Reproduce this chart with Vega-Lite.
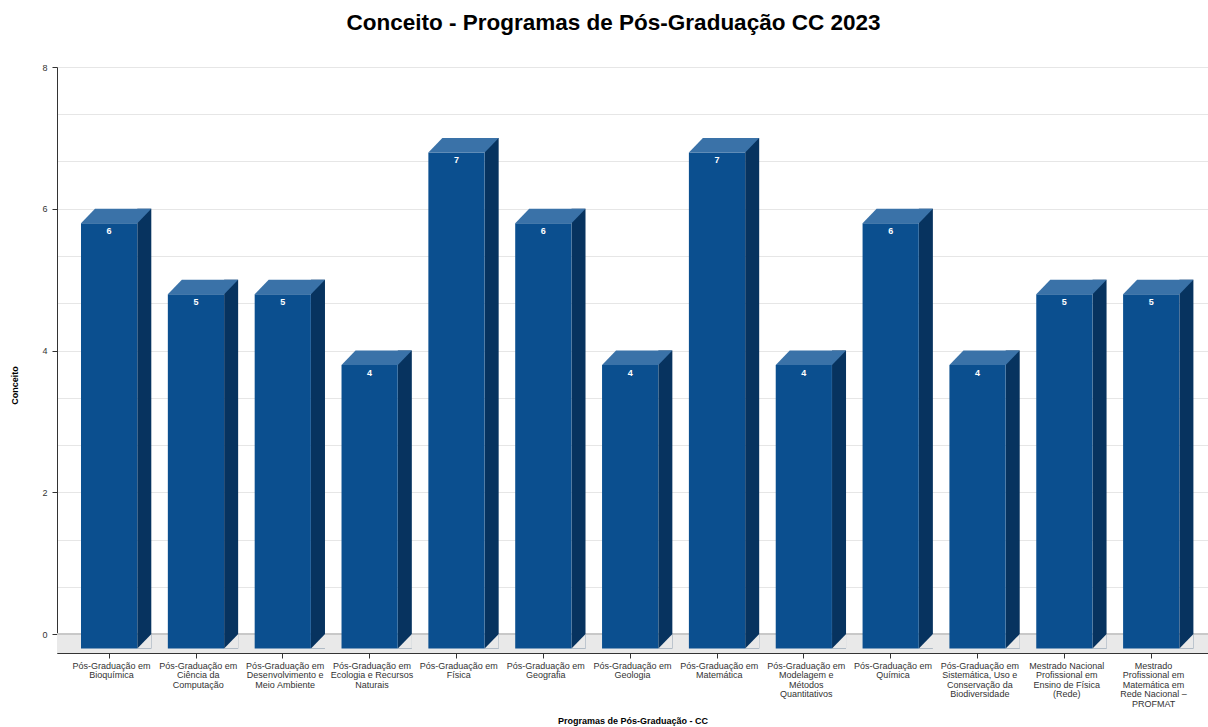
{
  "$schema": "https://vega.github.io/schema/vega-lite/v6.json",
  "width": 1151,
  "height": 586,
  "autosize": {"type": "none"},
  "padding": {"left": 57, "top": 67, "right": 0, "bottom": 74},
  "background": "white",
  "title": {
    "text": "Conceito - Programas de Pós-Graduação CC 2023",
    "font": "Liberation Sans",
    "fontSize": 22.5,
    "fontWeight": "bold",
    "color": "#000000",
    "anchor": "middle",
    "dx": -19,
    "baseline": "bottom",
    "offset": 6
  },
  "config": {
    "view": {"stroke": null},
    "font": "Liberation Sans"
  },
  "data": {
    "values": [
      {"programa": "Pós-Graduação em Bioquímica", "conceito": 6},
      {"programa": "Pós-Graduação em Ciência da Computação", "conceito": 5},
      {"programa": "Pós-Graduação em Desenvolvimento e Meio Ambiente", "conceito": 5},
      {"programa": "Pós-Graduação em Ecologia e Recursos Naturais", "conceito": 4},
      {"programa": "Pós-Graduação em Física", "conceito": 7},
      {"programa": "Pós-Graduação em Geografia", "conceito": 6},
      {"programa": "Pós-Graduação em Geologia", "conceito": 4},
      {"programa": "Pós-Graduação em Matemática", "conceito": 7},
      {"programa": "Pós-Graduação em Modelagem e Métodos Quantitativos", "conceito": 4},
      {"programa": "Pós-Graduação em Química", "conceito": 6},
      {"programa": "Pós-Graduação em Sistemática, Uso e Conservação da Biodiversidade", "conceito": 4},
      {"programa": "Mestrado Nacional Profissional em Ensino de Física (Rede)", "conceito": 5},
      {"programa": "Mestrado Profissional em Matemática em Rede Nacional – PROFMAT", "conceito": 5}
    ]
  },
  "encoding": {
    "x": {
      "field": "programa",
      "type": "nominal",
      "sort": null,
      "scale": {"paddingInner": 0, "paddingOuter": 0.127},
      "axis": {
        "title": "Programas de Pós-Graduação - CC",
        "titleFont": "Liberation Sans",
        "titleFontSize": 9,
        "titleFontWeight": "bold",
        "titleColor": "#000000",
        "titlePadding": 8,
        "labelAngle": 0,
        "labelFont": "Liberation Sans",
        "labelFontSize": 9,
        "labelColor": "#333333",
        "labelLineHeight": 9.5,
        "labelBaseline": "top",
        "labelPadding": 3,
        "labelLimit": 200,
        "bandPosition": 0.474,
        "domainColor": "#333333",
        "tickColor": "#333333",
        "tickSize": 5,
        "grid": false,
        "labelExpr": "split({'Pós-Graduação em Bioquímica': 'Pós-Graduação em|Bioquímica', 'Pós-Graduação em Ciência da Computação': 'Pós-Graduação em|Ciência da|Computação', 'Pós-Graduação em Desenvolvimento e Meio Ambiente': 'Pós-Graduação em|Desenvolvimento e|Meio Ambiente', 'Pós-Graduação em Ecologia e Recursos Naturais': 'Pós-Graduação em|Ecologia e Recursos|Naturais', 'Pós-Graduação em Física': 'Pós-Graduação em|Física', 'Pós-Graduação em Geografia': 'Pós-Graduação em|Geografia', 'Pós-Graduação em Geologia': 'Pós-Graduação em|Geologia', 'Pós-Graduação em Matemática': 'Pós-Graduação em|Matemática', 'Pós-Graduação em Modelagem e Métodos Quantitativos': 'Pós-Graduação em|Modelagem e|Métodos|Quantitativos', 'Pós-Graduação em Química': 'Pós-Graduação em|Química', 'Pós-Graduação em Sistemática, Uso e Conservação da Biodiversidade': 'Pós-Graduação em|Sistemática, Uso e|Conservação da|Biodiversidade', 'Mestrado Nacional Profissional em Ensino de Física (Rede)': 'Mestrado Nacional|Profissional em|Ensino de Física|(Rede)', 'Mestrado Profissional em Matemática em Rede Nacional – PROFMAT': 'Mestrado|Profissional em|Matemática em|Rede Nacional –|PROFMAT'}[datum.label] || datum.label, '|')"
      }
    }
  },
  "layer": [
    {
      "mark": {"type": "rect", "color": "#e9e9e9"},
      "encoding": {
        "x": null,
        "y": {"datum": 0, "type": "quantitative", "scale": {"domain": [-0.268, 8], "nice": false, "zero": false},
          "axis": {
            "title": "Conceito",
            "titleFont": "Liberation Sans",
            "titleFontSize": 9,
            "titleFontWeight": "bold",
            "titleColor": "#000000",
            "titlePadding": 22,
            "titleY": 318,
            "values": [0, 0.6667, 1.3333, 2, 2.6667, 3.3333, 4, 4.6667, 5.3333, 6, 6.6667, 7.3333, 8],
            "labelExpr": "datum.value % 2 === 0 ? format(datum.value, 'd') : ''",
            "labelFont": "Liberation Sans",
            "labelFontSize": 9,
            "labelColor": "#333333",
            "labelPadding": 5,
            "tickSize": 5,
            "tickColor": "#333333",
            "tickOpacity": {"condition": {"test": "datum.value % 2 === 0", "value": 1}, "value": 0},
            "domainColor": "#333333",
            "grid": true,
            "gridColor": "#e6e6e6",
            "gridWidth": 1
          }
        },
        "y2": {"datum": -0.268}
      }
    },
    {
      "mark": {"type": "rule", "color": "#c8c8c8", "strokeWidth": 1},
      "encoding": {"x": null, "y": {"datum": 0, "type": "quantitative"}}
    },
    {
      "mark": {"type": "bar", "color": "#07335f", "width": 14, "xOffset": 32.85, "y2Offset": 14.5},
      "encoding": {
        "y": {"field": "conceito", "type": "quantitative"},
        "y2": {"datum": 0}
      }
    },
    {
      "mark": {"type": "point", "filled": true, "color": "#e9e9e9", "opacity": 1, "size": 4, "strokeWidth": 0,
        "shape": "M 25.85 14.6 L 39.95 -0.1 L 39.95 14.6 Z"},
      "encoding": {
        "y": {"datum": 0, "type": "quantitative"}
      }
    },
    {
      "mark": {"type": "bar", "color": "#0b4f8f", "width": 56.2, "xOffset": -2.35, "yOffset": 14.5, "y2Offset": 14.5},
      "encoding": {
        "y": {"field": "conceito", "type": "quantitative"},
        "y2": {"datum": 0}
      }
    },
    {
      "mark": {"type": "point", "filled": true, "color": "#3a72a8", "opacity": 1, "size": 4, "strokeWidth": 0,
        "shape": "M -30.45 14.5 L -16.45 0 L 39.85 0 L 25.85 14.5 Z"},
      "encoding": {
        "y": {"field": "conceito", "type": "quantitative"}
      }
    },
    {
      "mark": {"type": "text", "color": "white", "font": "Liberation Sans", "fontSize": 9, "fontWeight": "bold",
        "baseline": "middle", "align": "center", "xOffset": -2.35, "yOffset": 22.2},
      "encoding": {
        "y": {"field": "conceito", "type": "quantitative"},
        "text": {"field": "conceito", "type": "quantitative"}
      }
    }
  ]
}
